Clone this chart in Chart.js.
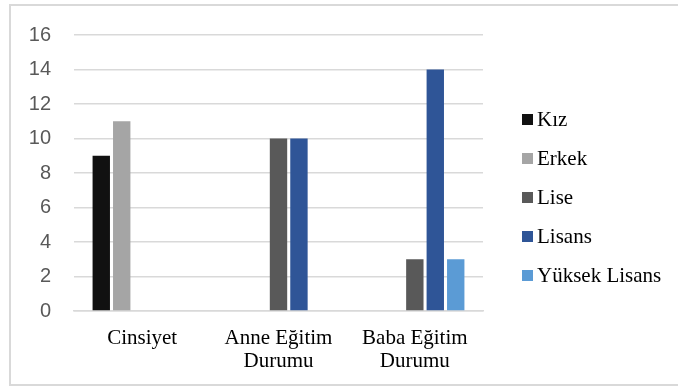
<!DOCTYPE html>
<html>
<head>
<meta charset="utf-8">
<script src="https://cdn.jsdelivr.net/npm/chart.js@4"></script>
<style>
  body { margin: 0; background: #fff; }
  #wrap { position: relative; width: 678px; height: 390px; overflow: hidden; }
  #frame {
    position: absolute; left: 9px; top: 4px; width: 700px; height: 382px;
    border: 2px solid #d9d9d9; box-sizing: border-box;
  }
  canvas { position: absolute; left: 0; top: 0; }
</style>
</head>
<body>
<div id="wrap">
  <div id="frame"></div>
  <canvas id="chart" width="678" height="390"></canvas>
</div>
<script>
// categories (multi-line labels)
const categories = [['Cinsiyet'], ['Anne Eğitim', 'Durumu'], ['Baba Eğitim', 'Durumu']];

// series values
const kiz = [9, null, null];
const erkek = [11, null, null];
const lise = [null, 10, 3];
const lisans = [null, 10, 14];
const yuksekLisans = [null, null, 3];

const seriesNames = ['Kız', 'Erkek', 'Lise', 'Lisans', 'Yüksek Lisans'];
const seriesColors = ['#111111', '#a5a5a5', '#595959', '#2f5597', '#5b9bd5'];

// y axis ticks
const yTicks = [0, 2, 4, 6, 8, 10, 12, 14, 16];

const SERIF = '"Liberation Serif", "Times New Roman", serif';

/**
 * Draws the legend at the right, one row per series.
 */
const sideLegend = {
    id: 'sideLegend',
    afterDraw(chart) {
        const ctx = chart.ctx;
        ctx.save();
        ctx.font = '21px ' + SERIF;
        ctx.textBaseline = 'middle';
        chart.data.datasets.forEach((ds, i) => {
            const y = 120 + i * 39;
            ctx.fillStyle = ds.backgroundColor;
            ctx.fillRect(522, y - 6, 11, 11);
            ctx.fillStyle = '#000';
            ctx.fillText(ds.label, 537, y);
        });
        ctx.restore();
    }
};

const values = [kiz, erkek, lise, lisans, yuksekLisans];

new Chart(document.getElementById('chart'), {
    type: 'bar',
    data: {
        labels: categories,
        datasets: values.map((v, i) => ({
            label: seriesNames[i],
            data: v,
            backgroundColor: seriesColors[i],
            borderWidth: 0,
            categoryPercentage: 0.75,
            barPercentage: 0.85
        }))
    },
    options: {
        responsive: false,
        animation: false,
        layout: { padding: { top: 34, right: 195, left: 0, bottom: 0 } },
        plugins: {
            legend: { display: false },
            tooltip: { enabled: false }
        },
        scales: {
            x: {
                grid: { display: false },
                border: { color: '#d9d9d9', width: 1.5 },
                ticks: {
                    color: '#000',
                    padding: 8,
                    maxRotation: 0,
                    autoSkip: false,
                    font: { family: SERIF, size: 21, lineHeight: 1.1 }
                },
                afterFit: scale => { scale.height = 79; }
            },
            y: {
                min: 0,
                max: 16,
                afterBuildTicks: scale => { scale.ticks = yTicks.map(v => ({ value: v })); },
                grid: { color: '#d9d9d9', lineWidth: 1.5, drawTicks: false },
                border: { display: false },
                ticks: {
                    color: '#595959',
                    padding: 23,
                    font: { family: '"Liberation Sans", Arial, sans-serif', size: 20 }
                },
                afterFit: scale => { scale.width = 74; }
            }
        }
    },
    plugins: [sideLegend]
});
</script>
</body>
</html>
